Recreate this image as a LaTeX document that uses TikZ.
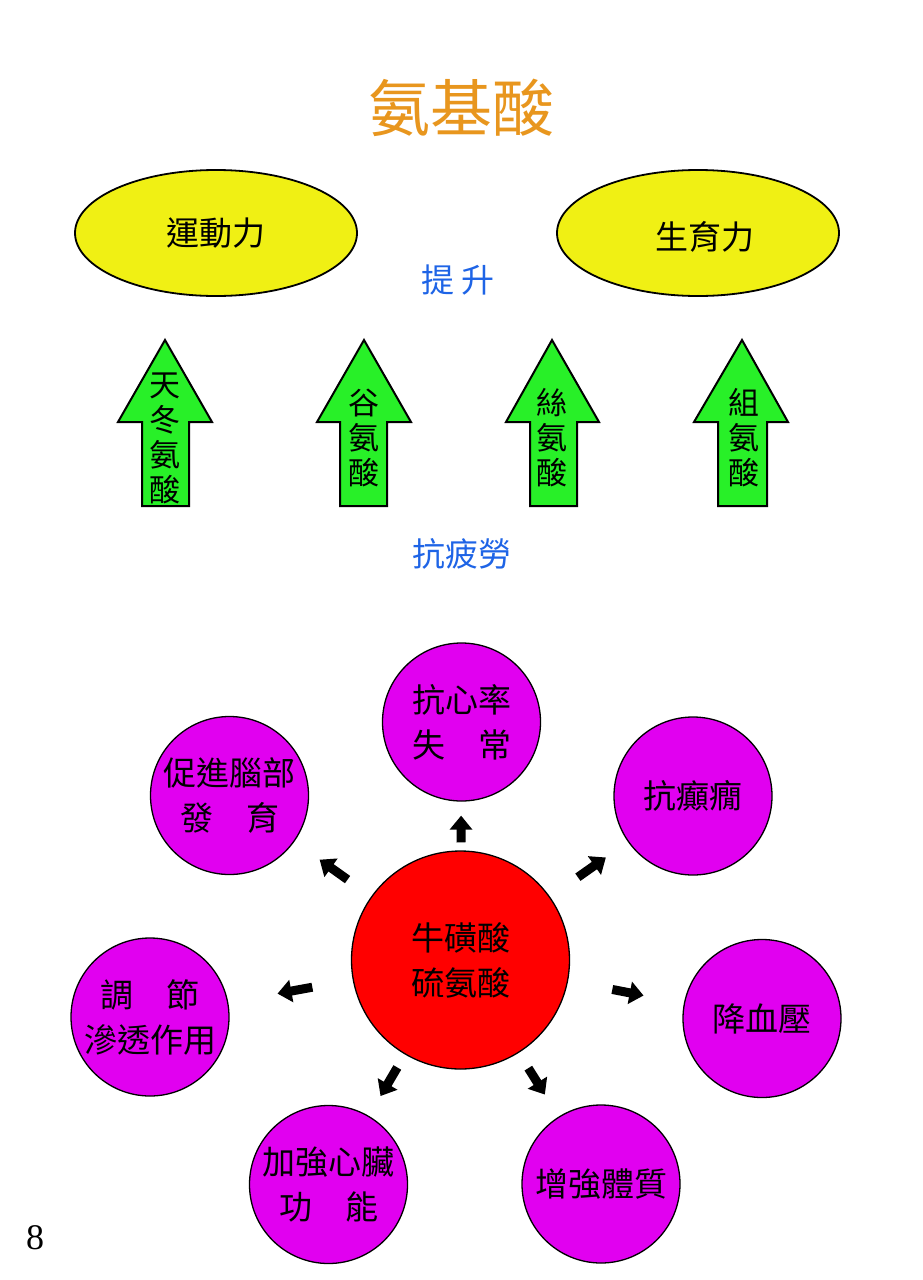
\documentclass[tikz,border=0pt]{standalone}
\usepackage{fontspec}
\usepackage{xcolor}
\usetikzlibrary{shapes.geometric,arrows.meta}
\setmainfont{Liberation Serif}
\newfontfamily\cjk{Noto Sans CJK TC}
\definecolor{titleorange}{RGB}{232,150,30}
\definecolor{ovalyellow}{RGB}{240,240,20}
\definecolor{arrowgreen}{RGB}{40,240,40}
\definecolor{labelblue}{RGB}{30,100,230}
\definecolor{effectpurple}{RGB}{225,0,240}
\definecolor{centrered}{RGB}{255,0,0}
\tikzset{
  oval/.style={ellipse,draw=black,line width=1.8pt,fill=ovalyellow,minimum width=282pt,minimum height=126pt,inner sep=0pt,font=\cjk\fontsize{33}{40}\selectfont},
  bluelabel/.style={text=labelblue,inner sep=0pt,font=\cjk\fontsize{33}{40}\selectfont},
  uparrow/.style={draw=black,line width=2pt,fill=arrowgreen,line join=miter},
  arrowtext/.style={align=center,inner sep=0pt,font=\cjk\fontsize{31}{35}\selectfont},
  effect/.style={circle,draw=black,line width=1.3pt,fill=effectpurple,minimum size=158pt,inner sep=0pt,align=center,font=\cjk\fontsize{33}{45}\selectfont},
  smallarrow/.style={black,line width=9pt,-{Triangle[length=14pt,width=22pt]}}
}
\begin{document}
\begin{tikzpicture}[x=1pt,y=-1pt]
\useasboundingbox (0,0) rectangle (922,1280);
% title
\node[text=titleorange,inner sep=0pt,font=\cjk\fontsize{62}{70}\selectfont] (title) at (461,108) {氨基酸};
% ovals
\node[oval] (motor) at (216,233) {運動力};
\node[oval] (fertility) at (698,233) {};
\node[inner sep=0pt,font=\cjk\fontsize{33}{40}\selectfont] (fertilitytext) at (705,237) {生育力};
\node[bluelabel] (boost) at (458,280) {提\hspace{7pt}升};
% green arrows
\draw[uparrow] (142,506) -- (142,422) -- (118,422) -- (165,340) -- (212,422) -- (189,422) -- (189,506) -- cycle;
\draw[uparrow] (340,506) -- (340,422) -- (317,422) -- (364,340) -- (411,422) -- (387,422) -- (387,506) -- cycle;
\draw[uparrow] (530,506) -- (530,422) -- (506,422) -- (552,340) -- (599,422) -- (577,422) -- (577,506) -- cycle;
\draw[uparrow] (718,506) -- (718,422) -- (694,422) -- (742,340) -- (788,422) -- (767,422) -- (767,506) -- cycle;
\node[arrowtext] (asp) at (165,438) {天\\冬\\氨\\酸};
\node[arrowtext] (glu) at (364,438) {谷\\氨\\酸};
\node[arrowtext] (ser) at (552,438) {絲\\氨\\酸};
\node[arrowtext] (his) at (744,438) {組\\氨\\酸};
\node[bluelabel] (antifatigue) at (462,554) {抗疲勞};
% circles
\node[circle,draw=black,line width=1.3pt,fill=centrered,minimum size=218pt,inner sep=0pt,align=center,font=\cjk\fontsize{33}{45}\selectfont] (taurine) at (460.5,960) {牛磺酸\\硫氨酸};
\node[effect] (heart) at (461.5,722) {抗心率\\失　常};
\node[effect] (brain) at (229.5,795.5) {促進腦部\\發　育};
\node[effect] (epilepsy) at (693,796) {抗癲癇};
\node[effect] (osmo) at (150,1017) {調　節\\滲透作用};
\node[effect] (pressure) at (762,1018.5) {降血壓};
\node[effect] (cardiac) at (328.5,1184.5) {加強心臟\\功　能};
\node[effect] (body) at (601,1184) {增強體質};
% small arrows
\draw[smallarrow,shorten <=8pt,shorten >=14pt] (taurine) -- (heart);
\draw[smallarrow,shorten <=29pt,shorten >=31pt] (taurine) -- (brain);
\draw[smallarrow,shorten <=34pt,shorten >=27pt] (taurine) -- (epilepsy);
\draw[smallarrow,shorten <=41pt,shorten >=50pt] (taurine) -- (osmo);
\draw[smallarrow,shorten <=45pt,shorten >=41pt] (taurine) -- (pressure);
\draw[smallarrow,shorten <=15pt,shorten >=23pt] (taurine) -- (cardiac);
\draw[smallarrow,shorten <=18pt,shorten >=26pt] (taurine) -- (body);
% page number
\node[inner sep=0pt,font=\fontsize{36}{40}\selectfont] (pagenum) at (35,1238) {8};
\end{tikzpicture}
\end{document}
